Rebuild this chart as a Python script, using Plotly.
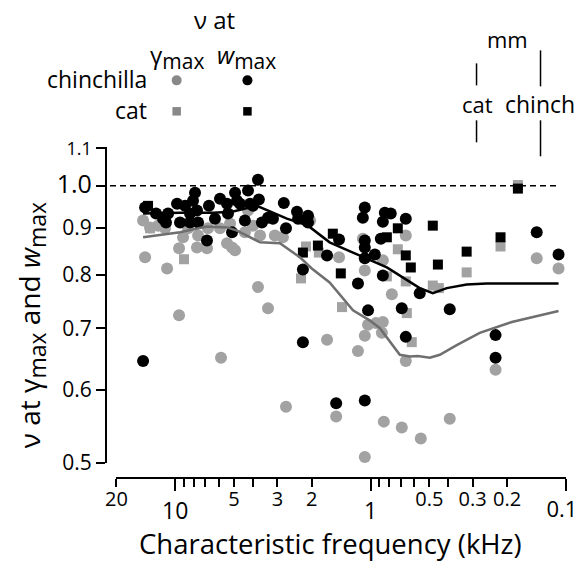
import math
import plotly.graph_objects as go

# ---------------- data (CF in kHz, nu values) ----------------
chin_w_cf = [14.27, 12.54, 11.55, 10.88, 9.79, 9.45, 8.40, 8.11, 7.92, 8.40, 7.74, 7.64, 6.88, 6.72,
             6.26, 5.90, 5.43, 5.37, 5.12, 4.94, 4.83, 4.66, 4.40, 4.24, 4.14, 3.77, 3.73, 4.00, 3.60,
             3.35, 3.16, 2.78, 2.71, 2.38, 2.35, 2.09, 2.09, 2.22, 2.22, 1.67, 14.61, 1.07, 1.095,
             0.845, 0.788, 0.865, 0.660, 1.45, 1.07, 1.07, 0.886, 1.07, 0.951, 0.865, 1.16, 0.560,
             1.03, 0.692, 0.393, 0.660, 0.229, 0.229, 0.141, 0.109, 1.50, 1.07, 8.91, 11.15]
chin_w_nu = [0.947, 0.933, 0.921, 0.933, 0.956, 0.912, 0.933, 0.963, 0.983, 0.912, 0.940, 0.912, 0.872, 0.951,
             0.921, 0.968, 0.956, 0.933, 0.890, 0.983, 0.963, 0.956, 0.917, 0.988, 0.956, 1.015, 0.966, 0.951, 0.912,
             0.923, 0.921, 0.958, 0.899, 0.937, 0.921, 0.928, 0.912, 0.811, 0.676, 0.840, 0.645, 0.947, 0.923,
             0.935, 0.933, 0.914, 0.921, 0.874, 0.872, 0.857, 0.876, 0.834, 0.842, 0.799, 0.783, 0.764,
             0.732, 0.736, 0.734, 0.685, 0.688, 0.650, 0.890, 0.842, 0.580, 0.584, 0.951, 0.912]

chin_g_cf = [14.61, 13.46, 12.25, 14.27, 11.01, 9.56, 9.56, 9.12, 8.60, 7.74, 7.64, 6.88, 6.80, 5.90,
             5.43, 4.94, 5.24, 4.40, 4.24, 4.00, 3.68, 3.77, 3.35, 3.09, 2.81, 5.83, 1.67, 2.04, 2.71,
             1.095, 0.660, 1.45, 0.865, 1.07, 0.778, 1.03, 0.939, 0.865, 0.875, 1.07, 1.16, 0.141,
             0.109, 0.660, 1.50, 0.855, 0.692, 0.553, 0.393, 1.07, 0.229, 11.28, 5.12]
chin_g_nu = [0.917, 0.901, 0.905, 0.836, 0.813, 0.855, 0.723, 0.879, 0.899, 0.857, 0.883, 0.855, 0.899, 0.899,
             0.866, 0.851, 0.910, 0.890, 0.940, 0.905, 0.883, 0.776, 0.736, 0.883, 0.879, 0.650, 0.680, 0.917, 0.575,
             0.876, 0.883, 0.836, 0.830, 0.809, 0.762, 0.706, 0.709, 0.711, 0.692, 0.687, 0.661, 0.834,
             0.813, 0.645, 0.561, 0.554, 0.546, 0.531, 0.558, 0.507, 0.631, 0.899, 0.857]

cat_g_cf = [13.46, 9.02, 2.27, 2.14, 1.84, 0.725, 0.825, 0.660, 0.480, 0.447, 0.322, 0.216, 1.40, 0.652,
            0.615, 0.176]
cat_g_nu = [0.899, 0.832, 0.793, 0.859, 0.846, 0.853, 0.797, 0.787, 0.779, 0.774, 0.805, 0.859, 0.738, 0.727,
            0.676, 1.002]

cat_w_cf = [13.78, 2.22, 1.86, 1.56, 1.42, 0.725, 0.480, 0.825, 0.660, 0.622, 0.452, 0.322, 0.216, 0.176]
cat_w_nu = [0.951, 0.846, 0.861, 0.887, 0.803, 0.899, 0.905, 0.879, 0.840, 0.815, 0.821, 0.848, 0.879, 0.993]

line_w_cf = [14.61, 9.45, 6.41, 5.12, 3.82, 2.68, 2.09, 1.62, 1.23, 0.825, 0.560, 0.480, 0.407, 0.322, 0.254, 0.109]
line_w_nu = [0.933, 0.935, 0.935, 0.937, 0.951, 0.921, 0.905, 0.868, 0.846, 0.815, 0.774, 0.764, 0.774, 0.781, 0.783, 0.783]

line_g_cf = [14.61, 9.45, 6.88, 5.43, 4.83, 3.68, 2.91, 2.30, 2.00, 1.62, 1.23, 1.01, 0.896, 0.708, 0.629,
             0.573, 0.497, 0.442, 0.362, 0.276, 0.189, 0.109]
line_g_nu = [0.879, 0.890, 0.903, 0.901, 0.894, 0.868, 0.866, 0.836, 0.813, 0.785, 0.732, 0.714, 0.700, 0.655, 0.652,
             0.653, 0.650, 0.655, 0.671, 0.692, 0.711, 0.731]

x_major_vals = [10, 1, 0.1]
x_major_text = ["10", "1", ""]
x_end_vals = [0.1]
x_end_text = ["0.1"]
x_small_vals = [20, 5, 3, 2, 0.5, 0.3, 0.2]
x_small_text = ["20", "5", "3", "2", "0.5", "0.3", "0.2"]
x_minor_vals = [20, 9, 8, 7, 6, 5, 4, 3, 2, 0.9, 0.8, 0.7, 0.6, 0.5, 0.4, 0.3, 0.2]
y_tick_vals = [0.5, 0.6, 0.7, 0.8, 0.9, 1.0, 1.1]
y_tick_text = ["0.5", "0.6", "0.7", "0.8", "0.9",
               "<span style='font-size:25px'>1.0</span>",
               "<span style='font-size:18px'>1.1</span>"]

# ---------------- layout geometry ----------------
W, H = 581, 561
PL, PR, PT, PB = 106, 566.2, 146.7, 478.0


def pxx(px):
    return (px - PL) / (PR - PL)


def pyy(py):
    return (PB - py) / (PB - PT)


FONT = "Open Sans"
GRAY = "#a2a2a2"
GRAY_LINE = "#6f6f6f"

fig = go.Figure()
fig.add_trace(go.Scatter(x=chin_g_cf, y=chin_g_nu, mode="markers", cliponaxis=False,
                         marker=dict(color=GRAY, size=12, symbol="circle")))
fig.add_trace(go.Scatter(x=cat_g_cf, y=cat_g_nu, mode="markers", cliponaxis=False,
                         marker=dict(color=GRAY, size=10, symbol="square")))
fig.add_trace(go.Scatter(x=chin_w_cf, y=chin_w_nu, mode="markers", cliponaxis=False,
                         marker=dict(color="black", size=12, symbol="circle")))
fig.add_trace(go.Scatter(x=cat_w_cf, y=cat_w_nu, mode="markers", cliponaxis=False,
                         marker=dict(color="black", size=10, symbol="square")))
fig.add_trace(go.Scatter(x=line_g_cf, y=line_g_nu, mode="lines",
                         line=dict(color=GRAY_LINE, width=2.5)))
fig.add_trace(go.Scatter(x=line_w_cf, y=line_w_nu, mode="lines",
                         line=dict(color="black", width=2.5)))
# invisible traces to carry the secondary tick-label axes
fig.add_trace(go.Scatter(x=[1], y=[1], xaxis="x2", mode="markers",
                         marker=dict(opacity=0), hoverinfo="skip"))
fig.add_trace(go.Scatter(x=[1], y=[1], xaxis="x3", mode="markers",
                         marker=dict(opacity=0), hoverinfo="skip"))

eps = 0.0008
xrange_ = [math.log10(20) + eps, math.log10(0.1) - eps]
yrange_ = [math.log10(0.5) - eps, math.log10(1.1) + eps]

xdom = [pxx(116.3), 1]
ydom = [pyy(463.3), 1]

fig.update_layout(
    width=W, height=H,
    margin=dict(l=PL, r=W - PR, t=PT, b=H - PB, autoexpand=False),
    paper_bgcolor="white", plot_bgcolor="white",
    showlegend=False,
    font=dict(family=FONT, color="black"),
    xaxis=dict(type="log", range=xrange_, domain=xdom, anchor="free", position=0,
               showline=True, linewidth=2, linecolor="black", showgrid=False, zeroline=False,
               ticks="outside", ticklen=12, tickwidth=2, tickcolor="black",
               tickmode="array", tickvals=x_major_vals, ticktext=x_major_text,
               tickfont=dict(size=23, family=FONT), ticklabeloverflow="allow",
               minor=dict(tickmode="array", tickvals=x_minor_vals, ticks="outside",
                          ticklen=8, tickwidth=2, tickcolor="black", showgrid=False)),
    xaxis2=dict(type="log", range=xrange_, overlaying="x", anchor="free", position=0,
                showline=False, showgrid=False, zeroline=False,
                ticks="outside", ticklen=3, tickwidth=2, tickcolor="black",
                tickmode="array", tickvals=x_small_vals, ticktext=x_small_text,
                tickfont=dict(size=20, family=FONT), ticklabeloverflow="allow"),
    xaxis3=dict(type="log", range=xrange_, overlaying="x", anchor="free", position=0,
                showline=False, showgrid=False, zeroline=False,
                ticks="outside", ticklen=12, tickwidth=2, tickcolor="black",
                tickmode="array", tickvals=x_end_vals, ticktext=x_end_text,
                tickfont=dict(size=22, family=FONT), ticklabeloverflow="allow",
                ticklabelshift=4),
    yaxis=dict(type="log", range=yrange_, domain=ydom, anchor="free", position=0,
               showline=True, linewidth=2, linecolor="black", showgrid=False, zeroline=False,
               ticks="outside", ticklen=9, tickwidth=2, tickcolor="black",
               tickmode="array", tickvals=y_tick_vals, ticktext=y_tick_text,
               tickfont=dict(size=21, family=FONT), ticklabeloverflow="allow"),
)

# dashed reference line at nu = 1.0
fig.add_shape(type="line", xref="paper", yref="y", x0=pxx(110), x1=pxx(560), y0=1.0, y1=1.0,
              line=dict(color="black", width=1.5, dash="6px,4px"))

annots = []


def ann(text, px, py, size, xanchor="center", yanchor="middle", angle=0):
    annots.append(dict(text=text, x=pxx(px), y=pyy(py), xref="paper", yref="paper",
                       xanchor=xanchor, yanchor=yanchor, showarrow=False, textangle=angle,
                       font=dict(size=size, family=FONT, color="black")))


def sub(s, px):
    return "<sub><span style='font-size:%dpx'>%s</span></sub>" % (px, s)


# legend block
ann("ν at", 215, 19, 24)
ann("γ" + sub("max", 21), 177, 56, 24)
ann("<i>w</i>" + sub("max", 21), 247, 56, 24)
ann("chinchilla", 149, 79, 23, xanchor="right")
ann("cat", 149, 110, 23, xanchor="right")
# mm annotation
ann("mm", 508, 39, 22)
ann("cat", 477.5, 104, 22)
ann("chinch", 540.5, 104, 23)
# axis titles
ann("Characteristic frequency (kHz)", 331, 544, 27.5)
ann("ν at γ" + sub("max", 23) + " and <i>w</i>" + sub("max", 23), 31, 325, 28, angle=-90)
fig.update_layout(annotations=annots)

# legend symbols
for cx, cy, col, kind, d in [(176.7, 80, "#888888", "circle", 10), (247.5, 80, "black", "circle", 10),
                             (176.7, 111, "#888888", "rect", 8.5), (247.5, 111, "black", "rect", 8.5)]:
    fig.add_shape(type=kind, xref="paper", yref="paper", xsizemode="pixel", ysizemode="pixel",
                  xanchor=pxx(cx), yanchor=pyy(cy), x0=-d / 2, x1=d / 2, y0=-d / 2, y1=d / 2,
                  fillcolor=col, line=dict(width=0))

# mm marker lines
for lx, segs in [(476.7, [(63, 85), (120, 142)]), (540.7, [(50, 86), (120, 156)])]:
    for a, b in segs:
        fig.add_shape(type="line", xref="paper", yref="paper", x0=pxx(lx), x1=pxx(lx),
                      y0=pyy(a), y1=pyy(b), line=dict(color="black", width=1.5))

fig.write_html("out.html")
